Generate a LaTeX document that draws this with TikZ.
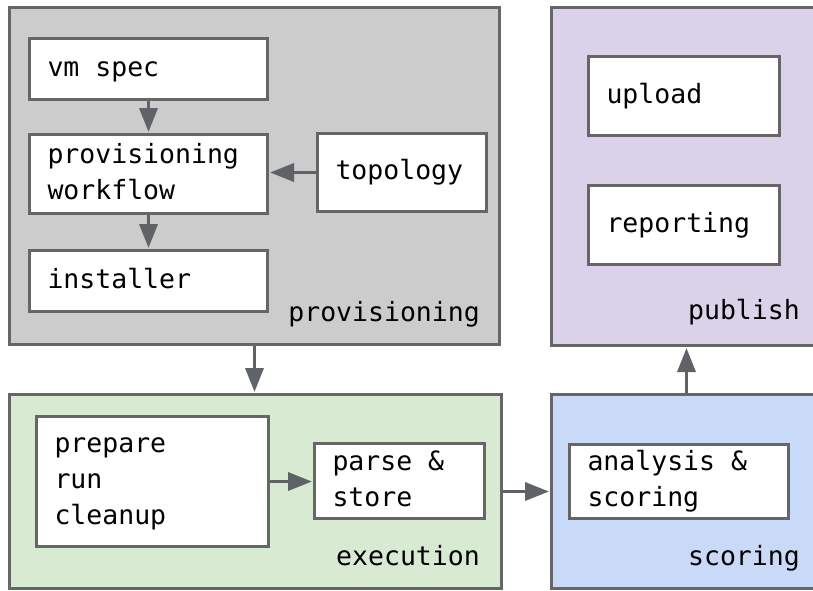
\documentclass[tikz,border=0pt]{standalone}
\usepackage{fontspec}
\setmonofont{DejaVu Sans Mono}
\usetikzlibrary{arrows.meta}

\definecolor{edgegray}{HTML}{666666}
\definecolor{arrowgray}{HTML}{5F6368}
\definecolor{provfill}{HTML}{CCCCCC}
\definecolor{execfill}{HTML}{D9EAD3}
\definecolor{scorefill}{HTML}{C9DAF8}
\definecolor{pubfill}{HTML}{D9D2E9}

% strut that keeps the x-height centred in a box
\newcommand\boxstrut{\rule[-0.3em]{0pt}{1.145em}}
% full-width, rigid spaces for the monospaced labels
\newcommand\monospacing{\spaceskip=0.602em plus 0pt minus 0pt\relax
  \xspaceskip=0.602em plus 0pt minus 0pt\relax}

\begin{document}
\begin{tikzpicture}[x=1pt,y=-1pt,
  mono/.style={font=\ttfamily\fontsize{26.5}{36}\selectfont\monospacing},
  group/.style={draw=edgegray, line width=3pt, anchor=north west, inner sep=0pt},
  stepbox/.style={mono, draw=edgegray, line width=3pt, fill=white,
    anchor=north west, inner xsep=18pt, inner ysep=0pt, align=left,
    execute at begin node={\monospacing\boxstrut},
    execute at end node=\boxstrut},
  glabel/.style={mono, anchor=base east, inner sep=0pt},
  flow/.style={draw=arrowgray, line width=3.5pt,
    -{Triangle[width=18pt,length=24pt]}, shorten >=1pt}
]
\clip (0,0) rectangle (813,590);

% stage frames
\node[group, fill=provfill,  minimum width=490pt, minimum height=337pt] (prov)  at (8,6) {};
\node[group, fill=execfill,  minimum width=492pt, minimum height=194pt] (exec)  at (8,393) {};
\node[group, fill=scorefill, minimum width=270pt, minimum height=194pt] (score) at (550,393) {};
\node[group, fill=pubfill,   minimum width=270pt, minimum height=338pt] (pub)   at (550,6) {};

% stage names
\node[glabel] (provlbl)  at (480,321) {provisioning};
\node[glabel] (execlbl)  at (480,565) {execution};
\node[glabel] (scorelbl) at (800,565) {scoring};
\node[glabel] (publbl)   at (800,319) {publish};

% provisioning steps
\node[stepbox, text width=202pt, minimum height=61pt] (vmspec)    at (28,37)  {vm spec};
\node[stepbox, text width=202pt, minimum height=79pt] (workflow)  at (28,133) {provisioning\\workflow};
\node[stepbox, text width=202pt, minimum height=61pt] (installer) at (28,249) {installer};
\node[stepbox, text width=133pt, minimum height=78pt] (topology)  at (316,132) {topology};

% execution steps
\node[stepbox, text width=196pt, minimum height=130pt] (runner) at (35,415)  {prepare\\run\\cleanup};
\node[stepbox, text width=134pt, minimum height=75pt]  (parse)  at (313,442) {parse \&\\store};

% scoring step
\node[stepbox, text width=183pt, minimum height=74pt] (analysis) at (568,443) {analysis \&\\scoring};

% publish steps
\node[stepbox, text width=155pt, minimum height=79pt] (upload)    at (587,55)  {upload};
\node[stepbox, text width=155pt, minimum height=79pt] (reporting) at (587,184) {reporting};

% connectors
\draw[flow] (vmspec.south) -- (workflow.north);
\draw[flow] (workflow.south) -- (installer.north);
\draw[flow] (topology.west) -- (topology.west -| workflow.east);
\draw[flow] (prov.south) -- (prov.south |- exec.north);
\draw[flow] (runner.east) -- (runner.east -| parse.west);
\draw[flow] (exec.east) -- (exec.east -| score.west);
\draw[flow] (score.north) -- (score.north |- pub.south);
\end{tikzpicture}
\end{document}
